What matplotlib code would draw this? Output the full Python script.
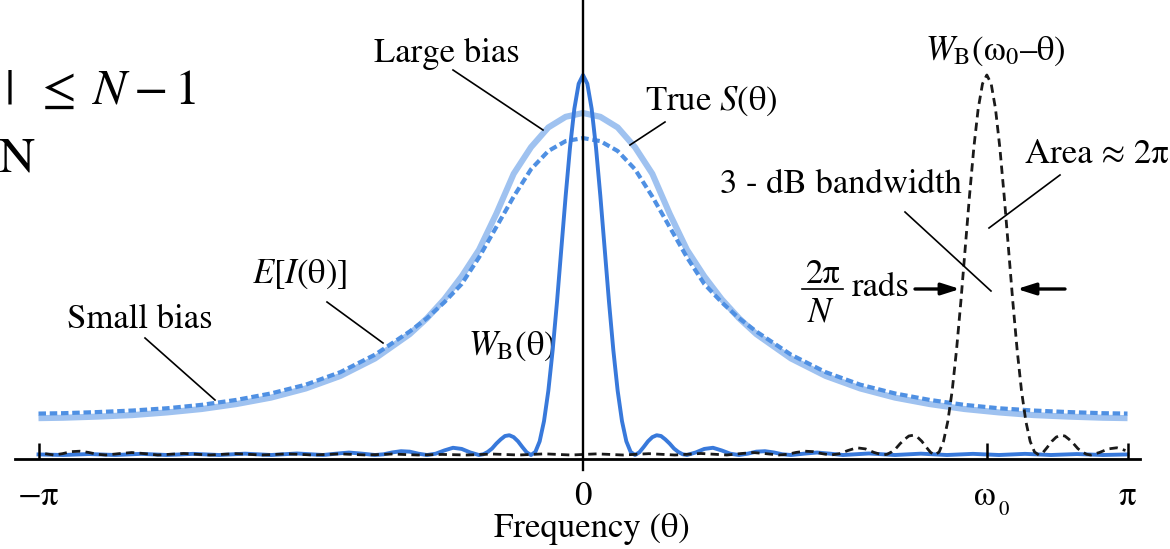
import numpy as np
import matplotlib
matplotlib.use("Agg")
import matplotlib.pyplot as plt
from matplotlib.transforms import Affine2D

plt.rcParams['font.family'] = ['STIXGeneral', 'DejaVu Sans']
plt.rcParams['mathtext.fontset'] = 'stix'

# --- values (height 1 = peak of the window) ---
theta_half = [0.0, 0.1, 0.2, 0.3, 0.4, 0.5, 0.6, 0.7, 0.8, 0.9, 1.0, 1.2, 1.4,
              1.6, 1.8, 2.0, 2.2, 2.4, 2.6, 2.8, 3.0, 3.1416]
true_s_half = [0.900, 0.890, 0.862, 0.810, 0.740, 0.635, 0.540, 0.470, 0.410,
               0.360, 0.318, 0.254, 0.208, 0.175, 0.151, 0.134, 0.121, 0.112,
               0.105, 0.101, 0.098, 0.097]
expected_i_half = [0.834, 0.826, 0.800, 0.752, 0.680, 0.600, 0.520, 0.450,
                   0.402, 0.360, 0.325, 0.264, 0.218, 0.185, 0.162, 0.145,
                   0.132, 0.123, 0.117, 0.113, 0.110, 0.109]

# Bartlett window W_B, one side (offset from its centre)
kernel_offset_half = [0.0, 0.025, 0.05, 0.075, 0.10, 0.125, 0.15, 0.175, 0.20,
                      0.225, 0.25, 0.275, 0.30, 0.325, 0.35, 0.375, 0.40, 0.425,
                      0.45, 0.475, 0.50, 0.525, 0.55, 0.575, 0.60, 0.65, 0.70,
                      0.75, 0.80, 0.85, 0.90, 0.95, 1.00, 1.05, 1.10, 1.15, 1.20,
                      1.275, 1.35, 1.425, 1.50, 1.575, 1.65, 1.725, 1.80, 1.95,
                      2.10, 2.25, 2.40, 2.55, 2.70, 2.85, 3.00, 3.1416]
kernel_half = [1.000, 0.977, 0.911, 0.809, 0.682, 0.543, 0.403, 0.276, 0.169,
               0.089, 0.036, 0.008, 0.0, 0.007, 0.021, 0.036, 0.047, 0.052,
               0.050, 0.041, 0.030, 0.017, 0.008, 0.002, 0.0, 0.0066, 0.016,
               0.019, 0.012, 0.0034, 0.0, 0.0035, 0.0088, 0.010, 0.0068, 0.0019,
               0.0, 0.0035, 0.0065, 0.0035, 0.0, 0.002, 0.004, 0.002, 0.0,
               0.0035, 0.0, 0.003, 0.0, 0.003, 0.0, 0.0025, 0.0, 0.0015]

omega0 = 2.33
tick_pos = [-np.pi, 0, omega0, np.pi]
tick_text = [r'$-$π', '0', 'ω', 'π']

# mirror the symmetric curves
th = np.array(theta_half)
theta = np.concatenate([-th[::-1], th[1:]])
true_s = np.concatenate([np.array(true_s_half)[::-1], true_s_half[1:]])
expected_i = np.concatenate([np.array(expected_i_half)[::-1], expected_i_half[1:]])
ko = np.array(kernel_offset_half)
k_off = np.concatenate([-ko[::-1], ko[1:]])
k_val = np.concatenate([np.array(kernel_half)[::-1], kernel_half[1:]])

# window shifted to omega0, wrapped round the 2*pi period
shifted = omega0 + k_off
shifted = np.where(shifted > np.pi, shifted - 2 * np.pi, shifted)
order = np.argsort(shifted)

W, H = 1170, 549
fig = plt.figure(figsize=(W / 100, H / 100), dpi=100)
ax = fig.add_axes([0, 0, 1, 1])
sx = (1127 - 38) / (2 * np.pi)
sy = 380
ax.set_xlim(-583 / sx, (W - 583) / sx)
ax.set_ylim((455 - H) / sy, 455 / sy)
ax.axis('off')

light = '#9fc2f0'
mid = '#4f90e3'
dark = '#3879db'

ax.plot(theta, true_s, color=light, lw=4.4, solid_capstyle='butt', zorder=2)
ax.plot(theta, expected_i, color=mid, lw=3.0, ls=(0, (1.8, 0.9)), zorder=3)
ax.plot(k_off, k_val, color=dark, lw=2.8, zorder=4)
ax.plot(shifted[order], k_val[order], color='#1a1a1a', lw=2.0,
        ls=(0, (3.0, 1.9)), zorder=5)

# axes lines and ticks
base = -4 / sy
ax.axhline(base, xmin=15 / W, xmax=1140 / W, color='black', lw=2.0, zorder=6)
ax.axvline(0, ymin=(H - 470) / H, ymax=1, color='black', lw=1.7, zorder=6)
ax.vlines([tick_pos[0], tick_pos[2], tick_pos[3]], base, base + 16 / sy,
          color='black', lw=1.8, zorder=6)

pix = Affine2D().scale(1 / W, -1 / H).translate(0, 1) + fig.transFigure
fs = 25
sub = 15

for x, lab in zip(tick_pos, tick_text):
    px = 583 + x * sx
    if lab == 'ω':
        ax.text(px - 2, 505, lab, transform=pix, ha='center', va='baseline', fontsize=fs)
        ax.text(px + 17, 515, '0', transform=pix, ha='center', va='baseline', fontsize=sub)
    else:
        ax.text(px, 505, lab, transform=pix, ha='center', va='baseline', fontsize=fs)
ax.text(592, 537, 'Frequency (θ)', transform=pix, ha='center', va='baseline',
        fontsize=fs)

ax.text(447, 62, 'Large bias', transform=pix, ha='center', va='baseline', fontsize=fs)
ax.text(645, 110, r'True $S$(θ)', transform=pix, ha='left', va='baseline', fontsize=fs)
ax.text(925, 60, r'$W_{\mathregular{B}}$(ω$_{\mathregular{0}}$–θ)', transform=pix,
        ha='left', va='baseline', fontsize=fs)
ax.text(1025, 163, 'Area ≈ 2π', transform=pix, ha='left', va='baseline', fontsize=fs)
ax.text(720, 193, '3 - dB bandwidth', transform=pix, ha='left', va='baseline', fontsize=fs)
ax.text(852, 296, 'rads', transform=pix, ha='left', va='baseline', fontsize=fs)
ax.text(823, 283, '2π', transform=pix, ha='center', va='baseline', fontsize=fs)
ax.text(821, 322, r'$N$', transform=pix, ha='center', va='baseline', fontsize=fs)
ax.text(252, 283, r'$E$[$I$(θ)]', transform=pix, ha='left', va='baseline', fontsize=fs)
ax.text(67, 328, 'Small bias', transform=pix, ha='left', va='baseline', fontsize=fs)
ax.text(468, 355, r'$W_{\mathregular{B}}$(θ)', transform=pix, ha='left',
        va='baseline', fontsize=fs)

# cropped equation at the top left
ax.text(4, 104, r'$|\;\;\leq\;N-1$', transform=pix, ha='left', va='baseline',
        fontsize=36)
ax.text(-2, 172, 'N', transform=pix, ha='left', va='baseline', fontsize=36)

# leader lines
leaders = [((453, 70), (543, 130)), ((665, 122), (630, 145)),
           ((1060, 175), (989, 228)), ((905, 212), (991, 291)),
           ((327, 302), (383, 343)), ((145, 338), (215, 400)),
           ((802, 289), (843, 289))]
for (x1, y1), (x2, y2) in leaders:
    ax.plot([x1, x2], [y1, y2], color='black', lw=1.2, transform=pix, zorder=7)

arrow = dict(arrowstyle='-|>,head_length=1.1,head_width=0.35', color='black',
             lw=2.4, shrinkA=0, shrinkB=0)
ax.annotate('', xy=(960, 289), xytext=(915, 289), xycoords=pix,
            textcoords=pix, arrowprops=arrow)
ax.annotate('', xy=(1017, 289), xytext=(1065, 289), xycoords=pix,
            textcoords=pix, arrowprops=arrow)

fig.savefig('out.png', dpi=100)
